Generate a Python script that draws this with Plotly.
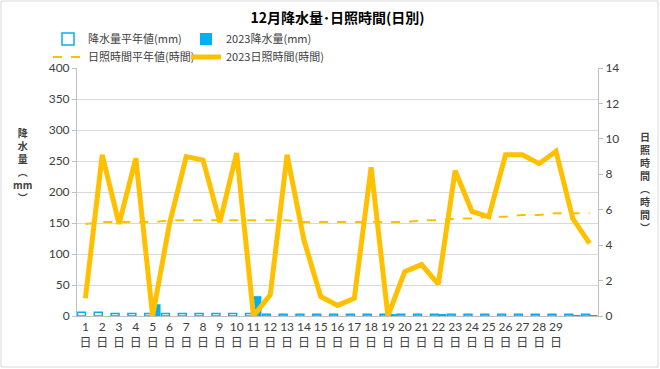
import plotly.graph_objects as go

days = list(range(1, 32))
tick_labels = [f"{d}<br>日" for d in range(1, 30)] + ["", ""]
precip_avg = [6, 6, 4, 4, 4, 4, 4, 4, 4, 4, 4, 3, 3, 3, 3, 3, 3, 3, 3, 3,
              3, 3, 3, 3, 3, 3, 3, 3, 3, 3, 3]
precip_2023 = [0, 0, 0, 0, 19, 0, 0, 0, 0, 0, 32, 0, 0, 0, 0, 0, 0, 0, 3, 0,
               0, 2, 0, 0, 0, 0, 0, 0, 0, 1, 1]
sun_avg = [5.2, 5.3, 5.3, 5.3, 5.3, 5.4, 5.4, 5.4, 5.4, 5.4, 5.4, 5.4, 5.4, 5.3, 5.3,
           5.3, 5.3, 5.3, 5.3, 5.3, 5.4, 5.4, 5.5, 5.5, 5.6, 5.6, 5.7, 5.7, 5.8, 5.8, 5.8]
sun_2023 = [1.0, 9.1, 5.2, 8.9, 0.0, 5.2, 9.0, 8.8, 5.3, 9.2, 0.0, 1.2, 9.1, 4.3, 1.1,
            0.6, 1.0, 8.4, 0.0, 2.5, 2.9, 1.8, 8.2, 5.9, 5.6, 9.1, 9.1, 8.6, 9.3, 5.5, 4.1]

FONT = "Lato, 'Noto Sans CJK JP', sans-serif"
CJK = "'Noto Sans CJK JP', sans-serif"
BLUE = "#00B0F0"
GOLD = "#FFC000"
TXT = "#404040"

fig = go.Figure()
fig.add_trace(go.Bar(x=days, y=precip_avg, name="降水量平年値(mm)",
                     marker=dict(color="white", line=dict(color=BLUE, width=1.5)),
                     legend="legend"))
fig.add_trace(go.Bar(x=days, y=precip_2023, name="2023降水量(mm)",
                     marker=dict(color=BLUE, line=dict(width=0)), legend="legend"))
fig.add_trace(go.Scatter(x=days, y=sun_avg, name="日照時間平年値(時間)", yaxis="y2",
                         mode="lines", line=dict(color=GOLD, width=2, dash="dash"),
                         legend="legend2"))
fig.add_trace(go.Scatter(x=days, y=sun_2023, name="2023日照時間(時間)", yaxis="y2",
                         mode="lines", line=dict(color=GOLD, width=5),
                         legend="legend2"))

W, H = 660, 369
L, R, T, B = 77, 62, 68, 53
pw, ph = W - L - R, H - T - B

def px(x):
    return (x - L) / pw

def py(y):
    return (H - B - y) / ph

annotations = [
    dict(x=px(22), y=py(165), xref="paper", yref="paper", xanchor="center", yanchor="middle",
         text="<b>降<br>水<br>量<br>︵<br>mm<br>︶</b>", showarrow=False,
         font=dict(family=CJK, size=10, color=TXT)),
    dict(x=px(645), y=py(182), xref="paper", yref="paper", xanchor="center", yanchor="middle",
         text="<b>日<br>照<br>時<br>間<br>︵<br>時<br>間<br>︶</b>", showarrow=False,
         font=dict(family=CJK, size=10, color=TXT)),
]

fig.update_layout(
    width=W, height=H,
    margin=dict(l=L, r=R, t=T, b=B, autoexpand=False),
    paper_bgcolor="white", plot_bgcolor="white",
    font=dict(family=FONT, size=12, color=TXT),
    title=dict(text="<b>12月降水量･日照時間(日別)</b>", x=0.5, xref="paper", y=1 - 18 / H,
               yanchor="middle", font=dict(family=CJK, size=14, color="#000000")),
    barmode="group", bargap=0.06, bargroupgap=0,
    xaxis=dict(range=[0.5, 31.5], tickmode="array", tickvals=days, ticktext=tick_labels,
               showgrid=False, showline=True, linecolor="#BFBFBF", linewidth=1,
               ticks="", tickfont=dict(family=FONT, size=12, color=TXT), fixedrange=True),
    yaxis=dict(range=[0, 400], dtick=50, showgrid=True, gridcolor="#D9D9D9", gridwidth=1,
               showline=True, linecolor="#BFBFBF", ticks="outside", ticklen=4,
               tickcolor="#BFBFBF", zeroline=False,
               tickfont=dict(family=FONT, size=12, color=TXT)),
    yaxis2=dict(range=[0, 14], dtick=2, overlaying="y", side="right", showgrid=False,
                showline=True, linecolor="#BFBFBF", ticks="outside", ticklen=4,
                tickcolor="#BFBFBF", zeroline=False,
                tickfont=dict(family=FONT, size=12, color=TXT)),
    legend=dict(orientation="h", x=px(48), y=py(39), xanchor="left", yanchor="middle",
                entrywidth=93, entrywidthmode="pixels", itemwidth=30,
                font=dict(family=CJK, size=11, color=TXT), bgcolor="rgba(0,0,0,0)",
                traceorder="normal"),
    legend2=dict(orientation="h", x=px(48), y=py(57), xanchor="left", yanchor="middle",
                 entrywidth=93, entrywidthmode="pixels", itemwidth=30,
                 font=dict(family=CJK, size=11, color=TXT), bgcolor="rgba(0,0,0,0)",
                 traceorder="normal"),
    annotations=annotations,
    shapes=[dict(type="rect", xref="paper", yref="paper",
                 x0=px(1), x1=px(658), y0=py(367), y1=py(1),
                 line=dict(color="#D9D9D9", width=1), fillcolor="rgba(0,0,0,0)", layer="below")],
)

fig.write_html("out.html", config={"displayModeBar": False},
               post_script="document.body.style.margin='0';")
